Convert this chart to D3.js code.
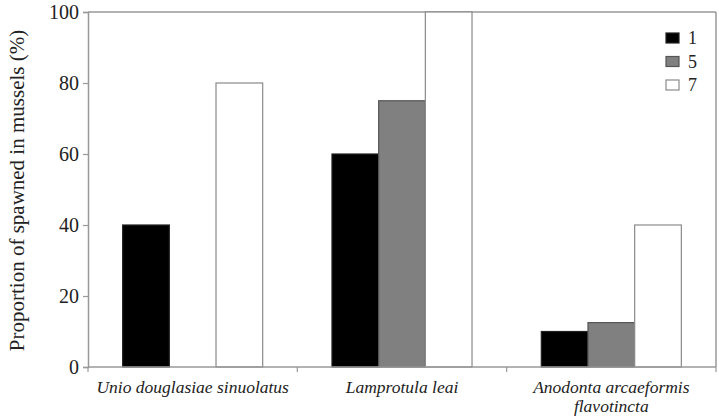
<!DOCTYPE html>
<html><head><meta charset="utf-8">
<script src="https://cdn.jsdelivr.net/npm/d3@7"></script>
<style>body{margin:0;background:#fff}svg{display:block}</style>
</head><body>
<svg id="chart" width="719" height="417"></svg>
<script>
const categories = [["Unio douglasiae sinuolatus"], ["Lamprotula leai"], ["Anodonta arcaeformis", "flavotincta"]];
const seriesNames = ["1", "5", "7"];
const values1 = [40, 60, 10];
const values5 = [0, 75, 12.5];
const values7 = [80, 100, 40];
const yTicks = [0, 20, 40, 60, 80, 100];
const colors = ["#000000", "#808080", "#ffffff"];
const strokes = ["#222", "#555", "#8a8a8a"];
const FONT = "'Liberation Serif', 'Times New Roman', Times, 'DejaVu Serif', serif";

const svg = d3.select("#chart").style("font-family", FONT);
const m = {left: 88, right: 3, top: 12, bottom: 50};
const W = 719, H = 417;
const catKeys = categories.map(c => c.join(" "));
const x0 = d3.scaleBand().domain(catKeys).range([m.left, W - m.right]).padding(0);
const groupW = x0.bandwidth() * 0.669;
const x1 = d3.scaleBand().domain(seriesNames).range([0, groupW]).padding(0);
const y = d3.scaleLinear().domain([0, 100]).range([H - m.bottom, m.top]);
const allVals = [values1, values5, values7];
const axisCol = "#999";

// frame (top & right)
svg.append("line").attr("x1", m.left).attr("x2", W - m.right).attr("y1", y(100)).attr("y2", y(100)).attr("stroke", axisCol).attr("stroke-width", 1.5);
svg.append("line").attr("x1", W - m.right).attr("x2", W - m.right).attr("y1", y(100)).attr("y2", y(0)).attr("stroke", axisCol).attr("stroke-width", 1.5);

// bars
catKeys.forEach((c, ci) => {
  const gx = x0(c) + (x0.bandwidth() - groupW) / 2;
  seriesNames.forEach((s, si) => {
    const v = allVals[si][ci];
    if (v <= 0) return;
    svg.append("rect")
      .attr("x", gx + x1(s)).attr("width", x1.bandwidth())
      .attr("y", y(v)).attr("height", y(0) - y(v))
      .attr("fill", colors[si]).attr("stroke", strokes[si]).attr("stroke-width", 1.2);
  });
});

// y axis
const yAxis = svg.append("g").attr("transform", `translate(${m.left},0)`)
  .call(d3.axisLeft(y).tickValues(yTicks).tickSize(5).tickPadding(4));
yAxis.attr("font-family", null).attr("font-size", null);
yAxis.select(".domain").attr("stroke", axisCol).attr("stroke-width", 1.5);
yAxis.selectAll(".tick line").attr("stroke", axisCol).attr("stroke-width", 1.2);
yAxis.selectAll(".tick text").style("font-family", FONT).style("font-size", "20px").attr("fill", "#222");

// x axis
const boundaries = catKeys.map(c => x0(c)).concat([W - m.right]);
const xAxis = svg.append("g").attr("transform", `translate(0,${y(0)})`);
xAxis.append("line").attr("x1", m.left).attr("x2", W - m.right).attr("stroke", axisCol).attr("stroke-width", 1.5);
xAxis.selectAll("line.tk").data(boundaries).join("line").attr("class", "tk")
  .attr("x1", d => d).attr("x2", d => d).attr("y1", 0).attr("y2", 5).attr("stroke", axisCol).attr("stroke-width", 1.2);
categories.forEach((c, ci) => {
  const cx = x0(catKeys[ci]) + x0.bandwidth() / 2;
  const t = svg.append("text").attr("x", cx).attr("y", 393)
    .attr("text-anchor", "middle").style("font-family", FONT).style("font-style", "italic").style("font-size", "17.5px").attr("fill", "#222");
  c.forEach((line, li) => t.append("tspan").attr("x", cx).attr("dy", li === 0 ? 0 : 19).text(line));
});

// y title
svg.append("text").attr("transform", `translate(24,${(y(0)+y(100))/2 + 1}) rotate(-90)`)
  .attr("text-anchor", "middle").style("font-family", FONT).style("font-size", "21px").attr("fill", "#222")
  .text("Proportion of spawned in mussels (%)");

// legend
const lg = svg.append("g");
seriesNames.forEach((s, i) => {
  const yy = 33 + i * 23.5;
  lg.append("rect").attr("x", 666).attr("y", yy).attr("width", 13).attr("height", 10)
    .attr("fill", colors[i]).attr("stroke", strokes[i]).attr("stroke-width", 1.2);
  lg.append("text").attr("x", 688).attr("y", yy + 11).style("font-family", FONT).style("font-size", "18px").attr("fill", "#222").text(s);
});
</script>
</body></html>
